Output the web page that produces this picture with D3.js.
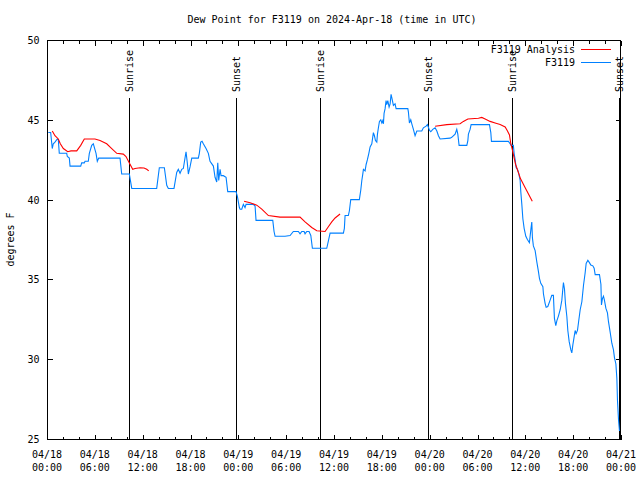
<!DOCTYPE html>
<html>
<head>
<meta charset="utf-8">
<script src="https://cdn.jsdelivr.net/npm/d3@7"></script>
<style>
  html, body { margin: 0; padding: 0; background: #fff; }
  svg { display: block; }
  text { font-family: "DejaVu Sans Mono", "Liberation Mono", monospace; font-size: 10px; fill: #000; }
</style>
</head>
<body>
<svg id="chart" width="640" height="480"></svg>
<script>
// ---------------- DATA ----------------
const chartTitle = "Dew Point for F3119 on 2024-Apr-18 (time in UTC)";
const yAxisTitle = "degrees F";
const seriesNames = ["F3119 Analysis", "F3119"];
const startDate = "2024-04-18T00:00:00Z";
const endDate = "2024-04-21T00:00:00Z";
const yTicks = [25, 30, 35, 40, 45, 50];

// Observations (hours after 04/18 00:00 UTC, degrees F)
const obsHours = [0.16,0.46,0.66,0.79,1.0,1.29,1.42,1.54,2.47,2.55,2.8,2.89,4.23,4.35,4.68,4.77,5.18,5.31,5.61,5.81,6.15,6.31,6.49,9.16,9.37,10.33,10.63,13.76,14.09,14.72,15.02,15.22,15.93,16.27,16.47,16.69,16.9,17.1,17.31,17.44,17.6,17.73,17.94,18.16,18.98,19.11,19.28,19.45,19.61,19.95,20.24,20.45,20.87,21.08,21.29,21.42,21.54,21.71,21.83,22.12,22.46,22.67,23.71,23.88,24.13,24.22,24.43,24.63,24.84,24.97,25.88,26.1,26.22,28.32,28.48,28.61,29.86,30.49,30.9,31.53,31.74,31.96,32.25,32.37,32.58,32.87,33.09,33.29,35.09,35.29,35.51,37.18,37.3,37.39,37.8,37.93,38.1,39.18,39.36,39.49,39.61,39.69,39.9,40.03,40.19,40.37,40.53,40.74,40.94,41.07,41.2,41.37,41.45,41.57,41.7,41.87,42.0,42.12,42.2,42.28,42.41,42.53,42.62,42.75,42.91,43.04,43.16,43.29,43.45,43.66,43.79,45.26,45.33,45.46,45.63,45.76,45.96,46.17,46.39,46.59,47.01,47.21,47.55,47.72,47.97,48.14,48.39,48.68,48.9,49.1,49.31,50.56,50.77,51.19,51.4,51.53,51.69,52.66,52.79,52.86,53.07,53.2,55.5,55.67,55.75,57.88,58.09,58.22,58.5,58.59,58.72,58.85,59.01,59.14,59.35,59.43,59.56,59.69,59.85,60.06,60.26,60.51,60.69,60.81,60.89,61.01,61.23,61.44,61.64,61.77,61.94,62.2,62.27,62.48,62.61,62.82,63.11,63.32,63.52,63.65,63.82,63.95,64.15,64.37,64.58,64.71,64.78,64.91,65.03,65.21,65.33,65.5,65.71,65.83,65.96,66.12,66.25,66.37,66.54,66.67,66.88,67.09,67.3,67.5,67.63,67.84,68.04,68.21,68.47,68.63,68.76,69.3,69.48,69.55,69.67,69.8,69.92,70.1,70.3,70.43,70.64,70.85,71.05,71.18,71.36,71.48,71.56,71.69,71.81];
const obsValues = [44.2,44.2,43.2,43.5,43.6,43.8,43.75,42.9,42.9,42.7,42.6,42.1,42.1,42.3,42.3,42.4,42.4,42.9,43.4,43.5,42.9,42.4,42.6,42.6,41.6,41.6,40.7,40.7,42.0,42.0,40.9,40.7,40.7,41.7,41.9,41.65,41.9,41.95,42.6,43.0,42.3,41.6,42.05,42.6,42.6,42.9,43.6,43.65,43.5,43.2,42.9,42.4,42.1,41.4,41.1,42.3,41.2,41.9,41.5,41.5,41.4,40.5,40.5,40.2,39.5,39.4,39.4,39.7,39.5,39.7,39.7,39.6,38.7,38.7,38.0,37.7,37.7,37.75,38.0,38.0,37.85,38.0,38.0,37.85,38.0,38.0,37.75,36.95,36.95,37.4,37.9,37.9,38.2,39.0,39.0,39.3,40.0,40.0,40.6,41.2,41.6,41.9,41.8,42.2,42.5,42.9,43.3,43.5,44.2,44.0,43.7,43.6,44.1,44.5,44.9,45.0,44.8,44.95,44.75,45.4,45.7,46.2,45.95,46.2,45.8,46.0,46.6,46.3,45.9,46.0,45.7,45.7,45.5,44.8,45.0,44.75,44.4,44.0,44.3,44.3,44.3,44.5,44.6,44.7,44.35,44.25,44.4,44.5,44.3,44.0,43.8,43.85,43.9,44.1,44.4,44.1,43.4,43.4,43.7,44.1,44.4,44.7,44.7,44.2,43.65,43.65,43.5,43.4,43.4,42.9,42.5,42.0,41.9,41.7,41.2,40.5,39.7,38.8,38.2,37.7,37.5,37.3,38.1,38.6,37.6,37.1,36.8,36.1,35.5,35.07,34.75,34.55,34.1,33.5,33.25,33.3,33.7,34.0,34.0,32.56,32.1,32.4,32.7,33.1,33.7,34.44,34.8,34.4,33.5,32.66,31.8,31.1,30.58,30.4,30.9,31.4,31.8,31.6,31.8,32.3,33.1,33.6,34.65,35.4,36.0,36.2,36.05,35.9,35.85,35.7,35.3,35.3,34.7,33.4,33.8,33.95,33.7,33.2,32.9,32.35,31.7,31.0,30.6,30.1,29.7,28.8,27.4,26.2,25.5];

// Analysis (null marks a gap between runs)
const anaHours = [0.66,1.0,1.42,1.67,2.05,2.6,3.01,3.73,4.23,4.68,6.02,6.65,7.49,8.12,8.75,9.57,9.91,10.33,10.75,11.04,11.67,12.17,12.51,12.76,null,24.72,25.47,26.31,26.94,27.77,29.23,31.74,32.37,33.21,33.84,34.88,35.29,35.72,36.14,36.76,null,48.68,50.15,51.82,52.23,52.79,54.12,54.54,54.96,55.58,56.21,56.84,57.47,57.76,58.01,58.18,58.36,58.56,58.78,58.99,59.4,60.03,60.87];
const anaValues = [44.3,44.0,43.8,43.5,43.2,43.0,43.05,43.05,43.4,43.8,43.8,43.7,43.5,43.2,42.9,42.85,42.7,42.3,41.9,41.95,42.0,41.98,41.9,41.8,null,39.9,39.8,39.65,39.4,39.0,38.9,38.9,38.6,38.25,38.05,38.0,38.3,38.6,38.85,39.1,null,44.6,44.7,44.75,44.9,45.05,45.1,45.15,45.05,44.9,44.8,44.7,44.55,44.3,44.05,43.5,43.15,42.7,42.2,41.9,41.3,40.7,39.9];

// Sunrise / sunset events (hours after 04/18 00:00 UTC)
const sunLabels = ["Sunrise", "Sunset", "Sunrise", "Sunset", "Sunrise", "Sunset"];
const sunHours = [10.25, 23.67, 34.24, 47.8, 58.35, 71.8];

// ---------------- CHART ----------------
(function () {
const svg = d3.select("#chart");
const pL = 47, pR = 621, pT = 40, pB = 439;
const t0 = new Date(startDate), t1 = new Date(endDate);
const H = 3600 * 1000;
const toDate = h => new Date(t0.getTime() + h * H);

const x = d3.scaleUtc().domain([t0, t1]).range([pL, pR]);
const y = d3.scaleLinear().domain([25, 50]).range([pB, pT]);

const red = "#ff0000", blue = "#0080ff";

// title
svg.append("text").attr("x", 332).attr("y", 23).attr("text-anchor", "middle").text(chartTitle);

// y title
svg.append("text").attr("transform", `translate(14,${(pT + pB) / 2}) rotate(-90)`)
  .attr("text-anchor", "middle").text(yAxisTitle);

// data clip
svg.append("clipPath").attr("id", "clip").append("rect")
  .attr("x", pL).attr("y", pT).attr("width", pR - pL).attr("height", pB - pT);

// sun lines & labels
const sunG = svg.append("g");
sunHours.forEach((h, i) => {
  const px = Math.round(x(toDate(h))) + 0.5;
  sunG.append("line").attr("x1", px).attr("x2", px).attr("y1", 98).attr("y2", pB)
    .attr("stroke", "#000").attr("stroke-width", 1).attr("shape-rendering", "crispEdges");
  sunG.append("text").attr("transform", `translate(${px},92) rotate(-90)`)
    .attr("text-anchor", "start").attr("dy", "0.35em").text(sunLabels[i]);
});

// axes frame
const frame = svg.append("g").attr("shape-rendering", "crispEdges");
frame.append("rect").attr("x", pL + 0.5).attr("y", pT + 0.5)
  .attr("width", pR - pL - 1).attr("height", pB - pT)
  .attr("fill", "none").attr("stroke", "#000");

// x ticks via d3 axis (every 2 h, inward); labels every 6 h
const ticks2h = d3.utcHour.every(2).range(t0, new Date(t1.getTime() + 1));
const majorTicks = d3.utcHour.every(6).range(t0, new Date(t1.getTime() + 1));
const fmtDate = d3.utcFormat("%m/%d"), fmtTime = d3.utcFormat("%H:%M");

const xb = svg.append("g").attr("transform", `translate(0,${pB + 0.5})`)
  .call(d3.axisBottom(x).tickValues(ticks2h).tickSizeInner(-3).tickSizeOuter(0).tickFormat(""));
const xt = svg.append("g").attr("transform", `translate(0,${pT + 0.5})`)
  .call(d3.axisTop(x).tickValues(ticks2h).tickSizeInner(-3).tickSizeOuter(0).tickFormat(""));
[xb, xt].forEach(g => {
  g.select(".domain").remove();
  g.selectAll(".tick line").attr("stroke", "#000").attr("shape-rendering", "crispEdges")
    .attr("y2", d => (majorTicks.some(m => +m === +d) ? 5 : 3) * (g === xb ? -1 : 1));
});

// x labels (two lines)
const xl = svg.append("g");
majorTicks.forEach(d => {
  const t = xl.append("text").attr("x", x(d)).attr("text-anchor", "middle");
  t.append("tspan").attr("x", x(d)).attr("y", 458).text(fmtDate(d));
  t.append("tspan").attr("x", x(d)).attr("y", 471).text(fmtTime(d));
});

// y ticks
const yl = svg.append("g").attr("transform", `translate(${pL + 0.5},0)`)
  .call(d3.axisLeft(y).tickValues(yTicks).tickSizeInner(-5).tickSizeOuter(0).tickPadding(10));
const yr = svg.append("g").attr("transform", `translate(${pR - 0.5},0)`)
  .call(d3.axisRight(y).tickValues(yTicks).tickSizeInner(-5).tickSizeOuter(0).tickFormat(""));
[yl, yr].forEach(g => {
  g.select(".domain").remove();
  g.selectAll(".tick line").attr("stroke", "#000").attr("shape-rendering", "crispEdges");
});
yl.attr("font-family", null).attr("font-size", null);
yr.attr("font-family", null).attr("font-size", null);
xb.attr("font-family", null).attr("font-size", null);
xt.attr("font-family", null).attr("font-size", null);
yl.selectAll(".tick text").attr("fill", "#000").attr("x", -8).attr("dy", "0.35em");

// data lines
const obs = obsHours.map((h, i) => ({ t: toDate(h), v: obsValues[i] }));
const ana = anaHours.map((h, i) => ({ t: h == null ? null : toDate(h), v: anaValues[i] }));

const line = d3.line().defined(d => d.v != null && d.t != null)
  .x(d => x(d.t)).y(d => y(d.v));

const plot = svg.append("g").attr("clip-path", "url(#clip)");
plot.append("path").datum(obs).attr("d", line).attr("fill", "none")
  .attr("stroke", blue).attr("stroke-width", 1.1);
plot.append("path").datum(ana).attr("d", line).attr("fill", "none")
  .attr("stroke", red).attr("stroke-width", 1.1);

// legend
const leg = svg.append("g");
[[seriesNames[0], red, 49.5], [seriesNames[1], blue, 62.5]].forEach(([name, c, ly]) => {
  leg.append("text").attr("x", 575).attr("y", ly).attr("dy", "0.35em").attr("text-anchor", "end").text(name);
  leg.append("line").attr("x1", 581).attr("x2", 611).attr("y1", ly).attr("y2", ly)
    .attr("stroke", c).attr("stroke-width", 1).attr("shape-rendering", "crispEdges");
});
})();
</script>
</body>
</html>
